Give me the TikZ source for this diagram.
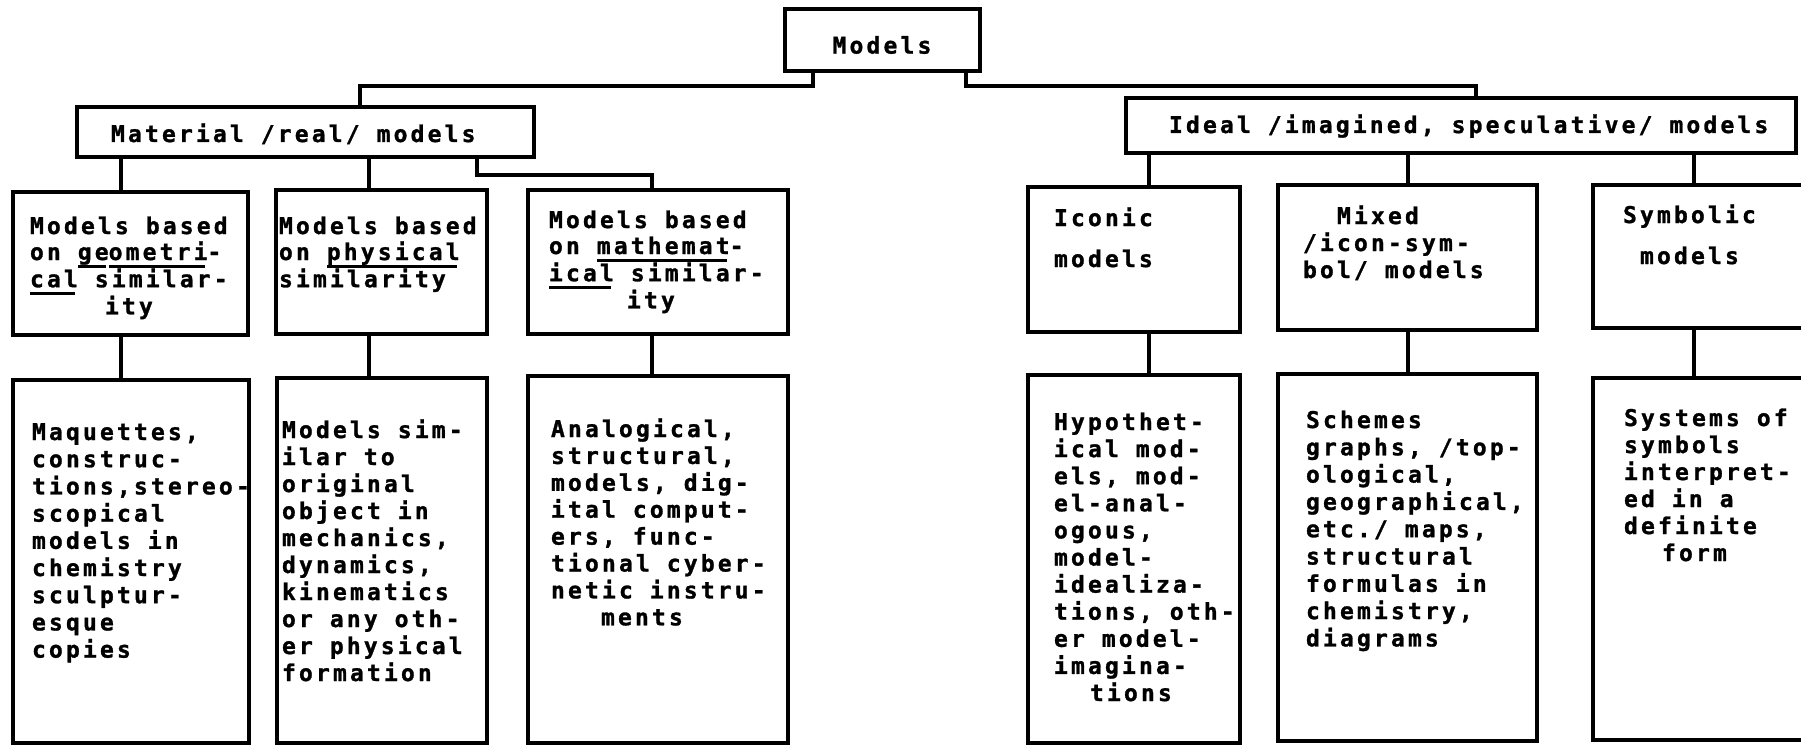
\documentclass[tikz,border=0pt]{standalone}
\usepackage{fontspec}
\newfontfamily\tw{DejaVu Sans Mono Bold}[LetterSpace=13.7,FakeBold=1.2]
\newcommand\myul[1]{\setbox0\hbox{#1}\rlap{\rule[-7.5pt]{\dimexpr\wd0-3pt\relax}{2.5pt}}\box0\relax}
\newcommand\fs{\rule{0pt}{20pt}}
\begin{document}
\begin{tikzpicture}[x=1pt,y=-1pt,
  box/.style={draw, line width=4.5pt, rectangle, inner sep=0pt, outer sep=0pt},
  conn/.style={line width=3.5pt},
  txt/.style={anchor=north west, inner sep=0pt, outer sep=0pt, align=left, font=\tw\fontsize{23}{27}\selectfont},
  lsk/.style={font=\tw\fontsize{23}{#1}\selectfont}]
\useasboundingbox (0,0) rectangle (1801,746);
\fill[white] (0,0) rectangle (1801,746);
\clip (0,0) rectangle (1801,746);
% boxes
\node[box, minimum width=195pt, minimum height=62pt] (models) at (882.5,40) {};
\node[box, minimum width=457pt, minimum height=50pt] (material) at (305.5,132) {};
\node[box, minimum width=670pt, minimum height=55pt] (ideal) at (1461,125.5) {};
\node[box, minimum width=235pt, minimum height=143pt] (ga) at (130.5,263.5) {};
\node[box, minimum width=211pt, minimum height=144pt] (ph) at (381.5,262) {};
\node[box, minimum width=260pt, minimum height=144pt] (ma) at (658,262) {};
\node[box, minimum width=212pt, minimum height=145pt] (ic) at (1134,259.5) {};
\node[box, minimum width=259pt, minimum height=145pt] (mx) at (1407.5,257.5) {};
\node[box, minimum width=222pt, minimum height=143pt] (sy) at (1704,256.5) {};
\node[box, minimum width=236pt, minimum height=363pt] (gaL) at (131,561.5) {};
\node[box, minimum width=210pt, minimum height=365pt] (phL) at (382,560.5) {};
\node[box, minimum width=260pt, minimum height=367pt] (maL) at (658,559.5) {};
\node[box, minimum width=212pt, minimum height=368pt] (icL) at (1134,559) {};
\node[box, minimum width=259pt, minimum height=367pt] (mxL) at (1407.5,557.5) {};
\node[box, minimum width=222pt, minimum height=362pt] (syL) at (1704,559) {};
% connectors
\coordinate (j1) at (813,86); \coordinate (j2) at (360,86);
\coordinate (j3) at (966,86); \coordinate (j4) at (1476,86);
\coordinate (xa) at (121,0); \coordinate (xb) at (369,0);
\coordinate (j5) at (477,175); \coordinate (j6) at (652,175);
\coordinate (xi) at (1149,0); \coordinate (xm) at (1408,0); \coordinate (xs) at (1694,0);
\draw[conn] (models.south -| j1) -- (j1) -- (j2) -- (material.north -| j2);
\draw[conn] (models.south -| j3) -- (j3) -- (j4) -- (ideal.north -| j4);
\draw[conn] (material.south -| xa) -- (ga.north -| xa);
\draw[conn] (material.south -| xb) -- (ph.north -| xb);
\draw[conn] (material.south -| j5) -- (j5) -- (j6) -- (ma.north -| j6);
\draw[conn] (ga.south -| xa) -- (gaL.north -| xa);
\draw[conn] (ph.south -| xb) -- (phL.north -| xb);
\draw[conn] (ma.south -| j6) -- (maL.north -| j6);
\draw[conn] (ideal.south -| xi) -- (ic.north -| xi);
\draw[conn] (ideal.south -| xm) -- (mx.north -| xm);
\draw[conn] (ideal.south -| xs) -- (sy.north -| xs);
\draw[conn] (ic.south -| xi) -- (icL.north -| xi);
\draw[conn] (mx.south -| xm) -- (mxL.north -| xm);
\draw[conn] (sy.south -| xs) -- (syL.north -| xs);
% texts
\node[txt, anchor=center] (tmodels) at (882,45) {Models};
\node[txt] (tmaterial) at (111,122) {\fs Material /real/ models};
\node[txt] (tideal) at (1169,113) {\fs Ideal /imagined, speculative/ models};
\node[txt, lsk=26] (tga) at (30,214) {\fs Models based\\on \myul{ge}\myul{ometri}-\\\myul{cal} similar-\\\hspace*{75pt}ity};
\node[txt, lsk=26] (tph) at (279,214) {\fs Models based\\on \myul{physical}\\similarity};
\node[txt, lsk=26] (tma) at (549,208) {\fs Models based\\on \myul{mathemat}-\\\myul{ical} similar-\\\hspace*{78pt}ity};
\node[txt, lsk=41] (tic) at (1054,206) {\fs Iconic\\models};
\node[txt, lsk=27] (tmx) at (1303,204) {\fs\hspace*{34pt}Mixed\\/icon-sym-\\bol/ models};
\node[txt, lsk=41] (tsy) at (1623,203) {\fs Symbolic\\\hspace*{17pt}models};
\node[txt, lsk=27.2] (tgaL) at (32,420) {\fs Maquettes,\\construc-\\tions,stereo-\\scopical\\models in\\chemistry\\sculptur-\\esque\\copies};
\node[txt, lsk=27] (tphL) at (282,418) {\fs Models sim-\\ilar to\\original\\object in\\mechanics,\\dynamics,\\kinematics\\or any oth-\\er physical\\formation};
\node[txt, lsk=26.9] (tmaL) at (551,417) {\fs Analogical,\\structural,\\models, dig-\\ital comput-\\ers, func-\\tional cyber-\\netic instru-\\\hspace*{50pt}ments};
\node[txt, lsk=27.1] (ticL) at (1054,410) {\fs Hypothet-\\ical mod-\\els, mod-\\el-anal-\\ogous,\\model-\\idealiza-\\tions, oth-\\er model-\\imagina-\\\hspace*{36pt}tions};
\node[txt, lsk=27.3] (tmxL) at (1306,408) {\fs Schemes\\graphs, /top-\\ological,\\geographical,\\etc./ maps,\\structural\\formulas in\\chemistry,\\diagrams};
\node[txt, lsk=27] (tsyL) at (1624,406) {\fs Systems of\\symbols\\interpret-\\ed in a\\definite\\\hspace*{38pt}form};
\end{tikzpicture}
\end{document}
